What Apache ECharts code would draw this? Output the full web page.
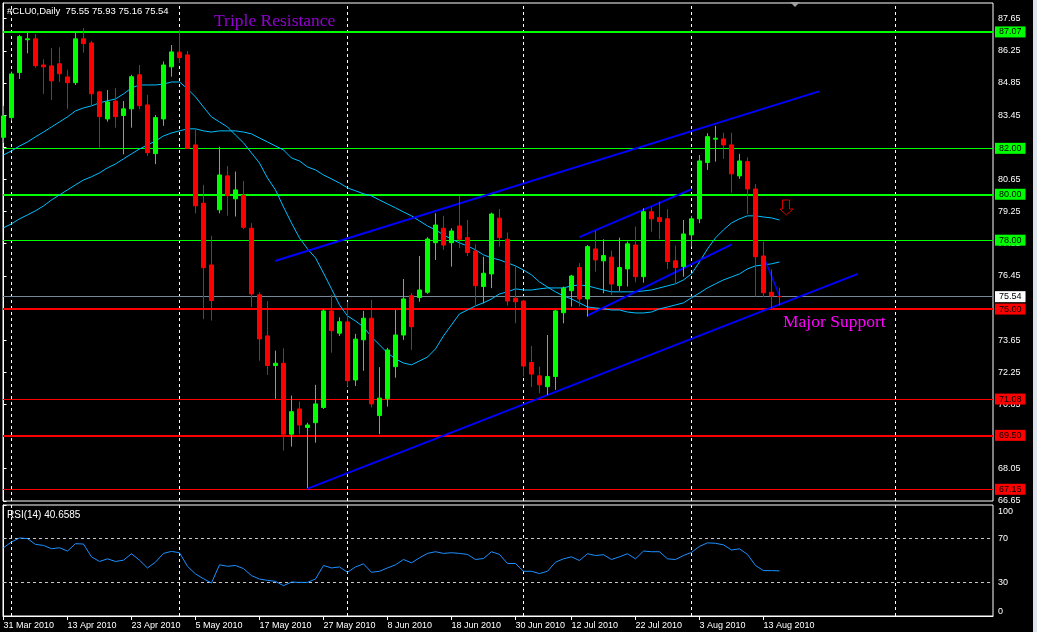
<!DOCTYPE html>
<html><head><meta charset="utf-8">
<script src="https://cdn.jsdelivr.net/npm/echarts@6/dist/echarts.min.js"></script>
<style>html,body{margin:0;padding:0;background:#000;}#c{width:1037px;height:632px;}</style>
</head><body><div id="c"></div>
<script>
const dates = ['31 Mar 2010','1 Apr 2010','5 Apr 2010','6 Apr 2010','7 Apr 2010','8 Apr 2010','9 Apr 2010','12 Apr 2010','13 Apr 2010','14 Apr 2010','15 Apr 2010','16 Apr 2010','19 Apr 2010','20 Apr 2010','21 Apr 2010','22 Apr 2010','23 Apr 2010','26 Apr 2010','27 Apr 2010','28 Apr 2010','29 Apr 2010','30 Apr 2010','3 May 2010','4 May 2010','5 May 2010','6 May 2010','7 May 2010','10 May 2010','11 May 2010','12 May 2010','13 May 2010','14 May 2010','17 May 2010','18 May 2010','19 May 2010','20 May 2010','21 May 2010','24 May 2010','25 May 2010','26 May 2010','27 May 2010','28 May 2010','31 May 2010','1 Jun 2010','2 Jun 2010','3 Jun 2010','4 Jun 2010','7 Jun 2010','8 Jun 2010','9 Jun 2010','10 Jun 2010','11 Jun 2010','14 Jun 2010','15 Jun 2010','16 Jun 2010','17 Jun 2010','18 Jun 2010','21 Jun 2010','22 Jun 2010','23 Jun 2010','24 Jun 2010','25 Jun 2010','28 Jun 2010','29 Jun 2010','30 Jun 2010','1 Jul 2010','2 Jul 2010','6 Jul 2010','7 Jul 2010','8 Jul 2010','9 Jul 2010','12 Jul 2010','13 Jul 2010','14 Jul 2010','15 Jul 2010','16 Jul 2010','19 Jul 2010','20 Jul 2010','21 Jul 2010','22 Jul 2010','23 Jul 2010','26 Jul 2010','27 Jul 2010','28 Jul 2010','29 Jul 2010','30 Jul 2010','2 Aug 2010','3 Aug 2010','4 Aug 2010','5 Aug 2010','6 Aug 2010','9 Aug 2010','10 Aug 2010','11 Aug 2010','12 Aug 2010','13 Aug 2010','16 Aug 2010','17 Aug 2010'];
const opens = [82.48,83.34,85.30,86.73,86.77,85.63,85.59,85.68,85.11,84.86, 86.77,86.59,84.46,83.28,84.06,83.43,83.72,85.20,83.89,81.77, 83.28,85.55,86.19,86.07,82.15,79.61,76.92,79.32,80.80,79.80, 79.96,78.52,75.62,73.83,72.54,72.64,69.55,70.65,69.84,70.05, 70.71,74.92,73.95,74.44,71.91,73.66,74.60,70.36,71.09,72.49, 73.87,75.58,75.50,75.73,77.89,78.52,77.89,78.62,78.11,77.53, 75.98,76.53,78.96,78.04,75.47,75.35,72.67,72.09,71.62,72.06, 74.84,75.80,76.81,75.44,77.62,77.10,77.26,76.02,76.75,77.79, 76.41,79.24,78.98,78.93,77.10,76.85,78.23,78.93,81.38,82.40, 82.41,82.15,80.80,81.42,80.23,77.31,75.73,75.55];
const highs = [83.85,85.34,86.94,87.04,86.98,85.88,86.37,86.40,85.42,87.04, 87.24,86.68,84.50,84.54,84.62,84.06,85.20,85.63,84.33,83.45, 85.78,86.50,87.16,86.24,82.83,80.41,78.19,82.07,81.23,80.99, 80.58,78.74,75.73,75.35,73.19,73.29,71.23,70.97,70.05,71.70, 75.00,75.62,74.64,75.31,73.92,74.92,75.40,72.47,73.31,74.96, 76.31,75.69,77.31,78.13,79.17,79.06,78.52,79.93,78.88,77.82, 77.28,79.20,79.36,78.33,76.85,75.40,73.39,72.49,73.87,74.96, 75.98,76.49,77.00,77.79,78.40,78.04,77.54,78.11,77.94,78.59, 79.39,79.44,79.68,79.35,77.76,78.88,79.06,81.71,82.66,82.98, 82.68,82.68,81.76,81.61,80.45,77.94,76.73,75.93];
const lows = [82.24,83.21,85.02,86.14,85.51,84.37,84.11,84.89,83.72,84.76, 86.17,83.89,82.03,83.16,82.90,81.74,82.90,83.70,81.67,81.31, 82.98,85.12,85.72,81.98,79.17,74.56,74.50,79.17,79.07,79.03, 78.48,75.08,72.75,72.13,71.09,68.84,69.01,69.55,67.20,69.18, 70.65,73.10,73.83,71.62,71.65,72.31,70.72,69.55,70.75,72.01, 73.66,73.22,75.32,75.66,77.14,77.58,76.85,77.65,77.31,75.18, 75.25,75.91,77.72,75.15,74.38,72.06,71.60,71.33,71.26,71.48, 74.38,75.11,75.11,74.67,76.63,75.69,75.62,75.79,75.98,76.17, 76.15,78.37,78.04,76.75,76.12,76.41,77.72,78.74,81.06,81.42, 81.54,80.07,80.67,79.14,75.54,75.52,75.03,75.16];
const closes = [83.41,85.24,86.87,86.77,85.60,85.55,84.94,85.25,84.86,86.77, 86.56,84.38,83.38,84.02,83.38,83.72,85.12,83.86,81.81,83.34, 85.63,86.20,85.95,82.00,79.50,76.80,75.37,80.84,79.94,80.19, 78.56,75.66,73.70,72.54,72.64,69.55,70.53,69.95,69.95,70.87, 74.92,74.06,74.45,71.88,73.69,74.60,70.87,71.12,73.22,73.87, 75.44,74.23,75.83,78.05,78.66,77.79,78.40,78.04,77.46,76.02, 76.56,79.14,78.11,75.35,75.32,72.52,72.17,71.70,72.06,74.92, 75.91,76.44,75.44,77.72,77.14,77.33,76.09,76.81,77.84,76.41, 79.24,78.93,78.81,77.07,76.81,78.27,78.93,81.45,82.51,82.44, 82.15,80.89,81.45,80.23,77.28,75.71,75.57,75.54];
const maFast = [81.71,81.89,82.10,82.28,82.50,82.71,82.93,83.15,83.37,83.63, 83.76,83.85,83.98,84.07,84.15,84.37,84.63,84.76,84.76,84.76, 84.80,84.89,84.89,84.59,84.24,83.80,83.37,83.15,82.93,82.58, 82.24,81.80,81.36,80.71,80.19,79.45,78.75,78.10,77.62,77.23, 76.57,75.88,75.18,74.70,74.48,74.22,73.79,73.44,73.09,72.83, 72.65,72.57,72.74,72.91,73.26,73.83,74.31,74.79,74.96,75.14, 75.27,75.44,75.66,75.75,75.88,75.83,75.83,75.88,75.92,75.92, 75.92,76.01,76.05,76.01,75.92,75.83,75.75,75.75,75.75,75.75, 75.79,75.83,75.92,76.01,76.10,76.27,76.53,77.05,77.62,78.10, 78.45,78.75,78.93,79.06,79.06,79.01,78.97,78.88];
const maSlow = [78.54,78.71,78.93,79.10,79.28,79.49,79.75,79.97,80.19,80.41, 80.62,80.76,80.93,81.15,81.32,81.54,81.76,81.97,82.15,82.32, 82.54,82.67,82.76,82.85,82.85,82.76,82.71,82.76,82.76,82.76, 82.71,82.63,82.45,82.28,82.10,81.93,81.58,81.45,81.19,81.06, 80.84,80.67,80.49,80.28,80.15,80.02,79.93,79.75,79.58,79.41, 79.23,79.06,78.84,78.62,78.45,78.23,78.05,77.88,77.75,77.58, 77.36,77.23,77.14,77.01,76.88,76.70,76.49,76.18,75.96,75.75, 75.57,75.44,75.27,75.09,75.05,75.01,74.96,74.96,74.87,74.83, 74.83,74.87,75.01,75.09,75.18,75.27,75.49,75.70,75.92,76.10, 76.27,76.40,76.53,76.75,76.88,76.92,76.97,77.05];
const rsi14 = [61.5,66.7,70.3,69.7,64.5,63.6,60.6,61.5,58.5,65.2, 64.8,53.3,49.1,51.5,49.1,50.3,56.1,50.3,43.3,48.5, 56.4,58.2,57.0,44.8,37.9,33.6,29.7,46.1,44.8,45.5, 42.7,36.4,33.3,32.1,31.2,27.3,30.6,30.3,30.3,33.3, 45.5,43.3,44.2,39.4,44.2,47.0,39.4,40.3,43.3,46.1, 50.9,47.9,52.4,56.4,57.9,56.4,57.0,56.4,55.5,50.9, 51.8,57.9,55.5,47.3,47.3,40.3,40.3,38.2,40.3,48.5, 51.5,53.3,50.0,56.1,54.5,55.2,50.9,53.3,56.1,51.5, 58.5,57.9,57.9,51.5,50.9,54.5,57.3,62.7,65.9,65.5, 64.1,59.5,60.5,55.5,45.5,40.9,40.9,40.6585];
const priceTicks = [66.65,68.05,69.45,70.85,72.25,73.65,75.05,76.45,77.85,79.25,80.65,82.05,83.45,84.85,86.25,87.65];
const rsiTicks = [0,30,70,100];
const rsiBands = [30,70];
const dateTickIndex = [0,8,16,24,32,40,48,56,64,71,79,87,95];
const monthStarts = [1,22,43,65,86,111.5];
const resistanceLevels = [87.07,82.00,80.00,78.00];
const supportLevels = [75.00,71.08,69.50,67.15];
const keyLevels = [87.07,80.00,75.00,69.50];
const channelLines = [
  [[33.94,77.09],[101.94,84.48]],
  [[37.94,67.17],[106.8,76.53]],
  [[71.98,78.13],[86.03,80.22]],
  [[72.98,74.71],[91.03,77.82]]
];
const pullbackLine = [[94.98,77.31],[97.06,75.53]];

const FONT = 'Liberation Sans';
const X_MIN = -0.06, X_MAX = X_MIN + 990 / 8;
const last = closes.length - 1;
const titleText = '#CLU0,Daily  ' + [opens[last], highs[last], lows[last], closes[last]].map(v => v.toFixed(2)).join(' ');
const rsiText = 'RSI(14) ' + rsi14[last].toFixed(4);

const chart = echarts.init(document.getElementById('c'), null, {renderer: 'canvas'});
const green = '#00ff00', red = '#ff0000';
const boxLabel = (txt, bg) => ({show: true, position: 'end', distance: 2, formatter: () => txt, color: '#000', backgroundColor: bg, padding: [1, 4, 0, 4], fontSize: 9, fontFamily: FONT, lineHeight: 10});
const levelItems = resistanceLevels.map(v => ({yAxis: v, c: green})).concat(supportLevels.map(v => ({yAxis: v, c: red}))).map(o => ({
  yAxis: o.yAxis,
  lineStyle: {color: o.c, width: keyLevels.includes(o.yAxis) ? 2 : 1, type: 'solid'},
  label: boxLabel(o.yAxis.toFixed(2), o.c)
}));
levelItems.push({yAxis: closes[last], lineStyle: {color: '#778899', width: 1, type: 'solid'}, label: boxLabel(closes[last].toFixed(2), '#ffffff')});
const sepItems = monthStarts.map(m => ({xAxis: m, lineStyle: {color: '#ffffff', width: 1, type: [3, 3]}, label: {show: false}}));
const rsiBandItems = rsiBands.map(v => ({yAxis: v, lineStyle: {color: '#c8c8c8', width: 1, type: [3, 3]}, label: {show: false}}));

const series = [
  {type: 'line', xAxisIndex: 0, yAxisIndex: 0, data: [], silent: true, z: 1,
   markLine: {silent: true, z: 1, symbol: ['none', 'none'], animation: false, data: sepItems}},
  {type: 'line', xAxisIndex: 0, yAxisIndex: 0, data: [], silent: true, z: 2,
   markLine: {silent: true, z: 2, symbol: ['none', 'none'], animation: false, data: levelItems}},
  {type: 'line', xAxisIndex: 0, yAxisIndex: 0, data: maSlow.map((v, i) => [i, v]), showSymbol: false, silent: true, z: 2, lineStyle: {color: '#00bfff', width: 1}},
  {type: 'line', xAxisIndex: 0, yAxisIndex: 0, data: maFast.map((v, i) => [i, v]), showSymbol: false, silent: true, z: 2, lineStyle: {color: '#00bfff', width: 1}}
];
channelLines.forEach(seg => series.push({type: 'line', xAxisIndex: 0, yAxisIndex: 0, data: seg, showSymbol: false, silent: true, z: 3, lineStyle: {color: '#0000ff', width: 2}}));
series.push({type: 'line', xAxisIndex: 0, yAxisIndex: 0, data: pullbackLine, showSymbol: false, silent: true, z: 3, lineStyle: {color: '#0000ff', width: 1.5}});
series.push({type: 'candlestick', xAxisIndex: 0, yAxisIndex: 0, z: 4, barWidth: 4,
  data: dates.map((d, i) => [i, opens[i], closes[i], lows[i], highs[i]]),
  itemStyle: {color: green, color0: red, borderColor: green, borderColor0: red, borderWidth: 1}});
series.push({type: 'line', xAxisIndex: 1, yAxisIndex: 1, data: rsi14.map((v, i) => [i, v]), showSymbol: false, silent: true, z: 3,
  lineStyle: {color: '#1e90ff', width: 1},
  markLine: {silent: true, z: 1, symbol: ['none', 'none'], animation: false, data: rsiBandItems.concat(sepItems)}});

chart.setOption({
  backgroundColor: '#000000',
  animation: false,
  grid: [
    {left: 3, top: 3, width: 990, height: 498, show: true, borderColor: '#ffffff', borderWidth: 1, containLabel: false},
    {left: 3, top: 505, width: 990, height: 111, show: true, borderColor: '#ffffff', borderWidth: 1, containLabel: false}
  ],
  xAxis: [
    {type: 'value', gridIndex: 0, min: X_MIN, max: X_MAX, axisLine: {show: false}, axisTick: {show: false}, axisLabel: {show: false}, splitLine: {show: false}},
    {type: 'value', gridIndex: 1, min: X_MIN, max: X_MAX, axisLine: {show: true, lineStyle: {color: '#ffffff'}},
     axisTick: {show: true, customValues: dateTickIndex, length: 4, lineStyle: {color: '#ffffff'}},
     axisLabel: {show: true, customValues: dateTickIndex, formatter: v => dates[Math.round(v)] || '', color: '#ffffff', fontSize: 9, fontFamily: FONT, align: 'left', margin: 5},
     splitLine: {show: false}}
  ],
  yAxis: [
    {type: 'value', gridIndex: 0, position: 'right', min: 66.64, max: 88.33,
     axisLine: {show: true, lineStyle: {color: '#ffffff'}},
     axisTick: {show: true, customValues: priceTicks, length: 3, lineStyle: {color: '#ffffff'}},
     axisLabel: {show: true, customValues: priceTicks, formatter: v => v.toFixed(2), color: '#ffffff', fontSize: 9, fontFamily: FONT, margin: 5},
     splitLine: {show: false}},
    {type: 'value', gridIndex: 1, position: 'right', min: 0, max: 100,
     axisLine: {show: true, lineStyle: {color: '#ffffff'}},
     axisTick: {show: true, customValues: rsiTicks, length: 3, lineStyle: {color: '#ffffff'}},
     axisLabel: {show: true, customValues: rsiTicks, color: '#ffffff', fontSize: 9, fontFamily: FONT, margin: 5, verticalAlignMinLabel: 'bottom', verticalAlignMaxLabel: 'top', padding: [2, 0, 0, 0]},
     splitLine: {show: false}}
  ],
  series: series,
  graphic: [
    {type: 'rect', shape: {x: 1033, y: 0, width: 4, height: 632}, style: {fill: '#dde3ea'}, silent: true},
    {type: 'polygon', shape: {points: [[790, 2], [800, 2], [795, 7]]}, style: {fill: '#a0a0a0'}, silent: true},
    {type: 'text', x: 7, y: 11, style: {text: titleText, fill: '#ffffff', font: '9.5px "Liberation Sans"', verticalAlign: 'middle'}, silent: true},
    {type: 'text', x: 7, y: 515, style: {text: rsiText, fill: '#ffffff', font: '10px "Liberation Sans"', verticalAlign: 'middle'}, silent: true},
    {type: 'text', x: 214, y: 21, style: {text: 'Triple Resistance', fill: '#9400d3', font: '17.5px "Liberation Serif"', verticalAlign: 'middle'}, silent: true},
    {type: 'text', x: 783, y: 322.5, style: {text: 'Major Support', fill: '#ff00ff', font: '17.5px "Liberation Serif"', verticalAlign: 'middle'}, silent: true},
    {type: 'polygon', shape: {points: [[782.5, 200], [789.5, 200], [789.5, 209], [793, 209], [786.3, 215], [780, 209], [782.5, 209]]}, style: {fill: 'none', stroke: '#d00000', lineWidth: 1}, silent: true}
  ]
});
</script>
</body></html>
